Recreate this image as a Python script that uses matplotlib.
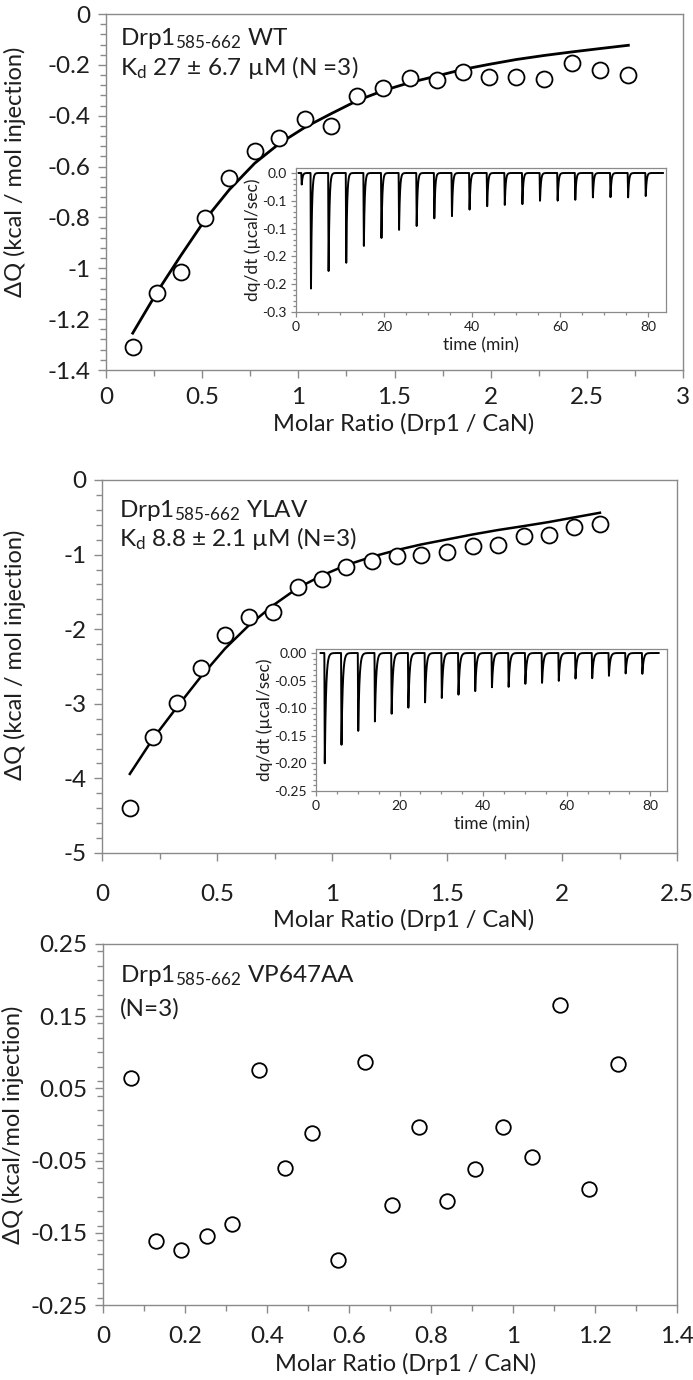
import numpy as np
import matplotlib
matplotlib.use("Agg")
import matplotlib.pyplot as plt
from matplotlib.ticker import MultipleLocator, FixedLocator, FixedFormatter

plt.rcParams['font.family'] = ['Lato', 'DejaVu Sans']
plt.rcParams['mathtext.fontset'] = 'custom'
plt.rcParams['mathtext.rm'] = 'Lato'
plt.rcParams['mathtext.it'] = 'Lato:italic'
plt.rcParams['mathtext.bf'] = 'Lato:bold'

# ---------------- data ----------------
# Panel A: WT
wt_ratio = [0.139, 0.266, 0.389, 0.516, 0.641, 0.773, 0.902, 1.036, 1.168, 1.305,
            1.439, 1.578, 1.719, 1.855, 1.992, 2.133, 2.279, 2.424, 2.568, 2.716]
wt_dq = [-1.311, -1.097, -1.015, -0.804, -0.643, -0.537, -0.487, -0.412, -0.442, -0.323,
         -0.290, -0.250, -0.261, -0.227, -0.246, -0.246, -0.255, -0.191, -0.222, -0.241]
wt_fit = [-1.255, -1.093, -0.950, -0.808, -0.691, -0.587, -0.509, -0.445, -0.393, -0.341,
          -0.302, -0.270, -0.244, -0.218, -0.198, -0.179, -0.163, -0.149, -0.136, -0.123]
# raw ITC trace (WT): injection times (min) and peak heights (ucal/sec)
wt_inj_time = [1.2, 3.3, 7.3, 11.3, 15.3, 19.3, 23.3, 27.3, 31.3, 35.3, 39.3,
               43.3, 47.3, 51.3, 55.3, 59.3, 63.3, 67.3, 71.3, 75.3, 79.3]
wt_inj_peak = [-0.021, -0.211, -0.183, -0.168, -0.135, -0.119, -0.103, -0.096, -0.084, -0.081, -0.068,
               -0.061, -0.058, -0.056, -0.051, -0.052, -0.050, -0.045, -0.044, -0.044, -0.042]
wt_inset_yticks = [0.0, -0.05, -0.10, -0.15, -0.20, -0.25]
wt_inset_ylabels = ['0.0', '-0.1', '-0.1', '-0.2', '-0.2', '-0.3']

# Panel B: YLAV
ylav_ratio = [0.121, 0.221, 0.327, 0.429, 0.535, 0.638, 0.744, 0.850, 0.956, 1.063,
              1.173, 1.281, 1.388, 1.500, 1.612, 1.721, 1.833, 1.942, 2.054, 2.165]
ylav_dq = [-4.40, -3.44, -2.99, -2.52, -2.08, -1.83, -1.77, -1.43, -1.33, -1.17,
           -1.08, -1.02, -1.00, -0.96, -0.886, -0.873, -0.748, -0.739, -0.627, -0.591]
ylav_fit = [-3.94, -3.47, -3.04, -2.64, -2.26, -1.95, -1.68, -1.45, -1.28, -1.14,
            -1.03, -0.94, -0.864, -0.797, -0.730, -0.671, -0.618, -0.564, -0.501, -0.439]
ylav_inj_time = [2.0, 6.0, 10.0, 14.0, 18.0, 22.0, 26.0, 30.0, 34.0, 38.0,
                 42.0, 46.0, 50.0, 54.0, 58.0, 62.0, 66.0, 70.0, 74.0, 78.0]
ylav_inj_peak = [-0.204, -0.168, -0.145, -0.124, -0.112, -0.102, -0.090, -0.0835, -0.076, -0.070,
                 -0.064, -0.0616, -0.057, -0.055, -0.051, -0.0476, -0.0457, -0.042, -0.038, -0.038]
ylav_inset_yticks = [0.0, -0.05, -0.10, -0.15, -0.20, -0.25]
ylav_inset_ylabels = ['0.00', '-0.05', '-0.10', '-0.15', '-0.20', '-0.25']

# Panel C: VP647AA
vp_ratio = [0.069, 0.129, 0.191, 0.253, 0.314, 0.380, 0.444, 0.509, 0.572, 0.639,
            0.705, 0.771, 0.840, 0.907, 0.976, 1.046, 1.115, 1.186, 1.256]
vp_dq = [0.064, -0.161, -0.174, -0.154, -0.138, 0.075, -0.060, -0.012, -0.188, 0.087,
         -0.112, -0.004, -0.106, -0.061, -0.003, -0.045, 0.165, -0.090, 0.084]

top_xticks = [0, 0.5, 1, 1.5, 2, 2.5, 3]
top_xlabels = ['0', '0.5', '1', '1.5', '2', '2.5', '3']
top_yticks = [0, -0.2, -0.4, -0.6, -0.8, -1.0, -1.2, -1.4]
top_ylabels = ['0', '-0.2', '-0.4', '-0.6', '-0.8', '-1', '-1.2', '-1.4']
mid_xticks = [0, 0.5, 1, 1.5, 2, 2.5]
mid_xlabels = ['0', '0.5', '1', '1.5', '2', '2.5']
mid_yticks = [0, -1, -2, -3, -4, -5]
mid_ylabels = ['0', '-1', '-2', '-3', '-4', '-5']
bot_xticks = [0, 0.2, 0.4, 0.6, 0.8, 1.0, 1.2, 1.4]
bot_xlabels = ['0', '0.2', '0.4', '0.6', '0.8', '1', '1.2', '1.4']
bot_yticks = [0.25, 0.15, 0.05, -0.05, -0.15, -0.25]
bot_ylabels = ['0.25', '0.15', '0.05', '-0.05', '-0.15', '-0.25']
inset_xticks = [0, 20, 40, 60, 80]
inset_xlabels = ['0', '20', '40', '60', '80']

# ---------------- style ----------------
W, H = 693, 1380
SPINE = '#8a8a8a'
TXT = '#1e1e1e'
fig = plt.figure(figsize=(W / 100, H / 100), dpi=100)


def px_axes(l, t, r, b):
    return fig.add_axes([l / W, 1 - b / H, (r - l) / W, (b - t) / H])


def style_axes(ax, fs, maj, minr, xpad, ypad, lw=1.0):
    for s in ax.spines.values():
        s.set_color(SPINE)
        s.set_linewidth(lw)
    ax.tick_params(which='both', direction='out', color=SPINE, width=lw,
                   labelcolor=TXT, labelsize=fs, top=False, right=False)
    ax.tick_params(which='major', length=maj)
    ax.tick_params(which='minor', length=minr)
    ax.tick_params(axis='x', which='major', pad=xpad)
    ax.tick_params(axis='y', which='major', pad=ypad)


def set_ticks(ax, xt, xl, yt, yl, xminor, yminor):
    ax.xaxis.set_major_locator(FixedLocator(xt))
    ax.xaxis.set_major_formatter(FixedFormatter(xl))
    ax.yaxis.set_major_locator(FixedLocator(yt))
    ax.yaxis.set_major_formatter(FixedFormatter(yl))
    ax.xaxis.set_minor_locator(MultipleLocator(xminor))
    ax.yaxis.set_minor_locator(MultipleLocator(yminor))


def itc_trace(t, times, peaks, ramp, tau):
    y = np.zeros_like(t)
    for t0, p in zip(times, peaks):
        dt = t - t0
        shape = np.where(dt < 0, 0.0,
                         np.where(dt < ramp, dt / ramp, np.exp(-(dt - ramp) / tau)))
        y += p * shape
    return y


MAIN_FS = 17.5
LAB_FS = 17
ANN_FS = 17.5
IN_FS = 10
IN_LAB = 12.5
MS = 11.5
MEW = 1.3

# ---------------- Panel A ----------------
ax1 = px_axes(106, 14, 683, 370)
ax1.plot(wt_ratio, wt_dq, 'o', ms=MS, mfc='white', mec='black', mew=MEW, zorder=3)
ax1.plot(wt_ratio, wt_fit, '-', color='black', lw=2.0, zorder=2)
ax1.set_xlim(0, 3)
ax1.set_ylim(-1.4, 0)
set_ticks(ax1, top_xticks, top_xlabels, top_yticks, top_ylabels, 0.25, 0.04)
style_axes(ax1, MAIN_FS, 6, 4, 6, 5)
ax1.text(0.024, 0.913, r'Drp1$_{\mathregular{585\text{-}662}}$ WT', transform=ax1.transAxes,
         fontsize=ANN_FS, color=TXT, va='baseline', ha='left')
ax1.text(0.024, 0.828, r'K$_{\mathregular{d}}$ 27 $\pm$ 6.7 µM (N =3)', transform=ax1.transAxes,
         fontsize=ANN_FS, color=TXT, va='baseline', ha='left')

in1 = px_axes(296, 168, 666, 312)
t1 = np.linspace(0.6, 83.3, 6000)
in1.plot(t1, itc_trace(t1, wt_inj_time, wt_inj_peak, 0.1, 0.2), color='black', lw=1.4)
in1.set_xlim(0, 84)
in1.set_ylim(-0.25, 0.009)
set_ticks(in1, inset_xticks, inset_xlabels, wt_inset_yticks, wt_inset_ylabels, 5, 0.01)
style_axes(in1, IN_FS, 3.5, 2.5, 3, 3, lw=0.9)
in1.set_xlabel('time (min)', fontsize=IN_LAB, color=TXT, labelpad=3)
in1.set_ylabel('dq/dt (µcal/sec)', fontsize=IN_LAB, color=TXT, labelpad=1)

fig.text(15 / W, 1 - 172 / H, 'ΔQ (kcal / mol injection)', rotation=90, fontsize=LAB_FS,
         color=TXT, ha='center', va='center')
fig.text(404 / W, 1 - 424 / H, 'Molar Ratio (Drp1 / CaN)', fontsize=LAB_FS, color=TXT,
         ha='center', va='center')

# ---------------- Panel B ----------------
ax2 = px_axes(102, 480, 677, 853)
ax2.plot(ylav_ratio, ylav_dq, 'o', ms=MS, mfc='white', mec='black', mew=MEW, zorder=3)
ax2.plot(ylav_ratio, ylav_fit, '-', color='black', lw=1.8, zorder=2)
ax2.set_xlim(0, 2.5)
ax2.set_ylim(-5, 0)
set_ticks(ax2, mid_xticks, mid_xlabels, mid_yticks, mid_ylabels, 0.25, 0.2)
style_axes(ax2, MAIN_FS, 6, 4, 16, 5)
ax2.text(0.029, 0.900, r'Drp1$_{\mathregular{585\text{-}662}}$ YLAV', transform=ax2.transAxes,
         fontsize=ANN_FS, color=TXT, va='baseline', ha='left')
ax2.text(0.029, 0.822, r'K$_{\mathregular{d}}$ 8.8 $\pm$ 2.1 µM (N=3)', transform=ax2.transAxes,
         fontsize=ANN_FS, color=TXT, va='baseline', ha='left')

in2 = px_axes(316, 649, 667, 791)
t2 = np.linspace(1.1, 82.0, 6000)
in2.plot(t2, itc_trace(t2, ylav_inj_time, ylav_inj_peak, 0.1, 0.3), color='black', lw=1.4)
in2.set_xlim(0, 84)
in2.set_ylim(-0.25, 0.0073)
set_ticks(in2, inset_xticks, inset_xlabels, ylav_inset_yticks, ylav_inset_ylabels, 5, 0.01)
style_axes(in2, IN_FS, 3.5, 2.5, 3, 3, lw=0.9)
in2.set_xlabel('time (min)', fontsize=IN_LAB, color=TXT, labelpad=3)
in2.set_ylabel('dq/dt (µcal/sec)', fontsize=IN_LAB, color=TXT, labelpad=1)

fig.text(15 / W, 1 - 655 / H, 'ΔQ (kcal / mol injection)', rotation=90, fontsize=LAB_FS,
         color=TXT, ha='center', va='center')
fig.text(404 / W, 1 - 920 / H, 'Molar Ratio (Drp1 / CaN)', fontsize=LAB_FS, color=TXT,
         ha='center', va='center')

# ---------------- Panel C ----------------
ax3 = px_axes(103, 944, 677, 1305)
ax3.plot(vp_ratio, vp_dq, 'o', ms=10.5, mfc='white', mec='black', mew=MEW, zorder=3)
ax3.set_xlim(0, 1.4)
ax3.set_ylim(-0.25, 0.25)
set_ticks(ax3, bot_xticks, bot_xlabels, bot_yticks, bot_ylabels, 0.1, 0.02)
style_axes(ax3, MAIN_FS, 6, 4, 9, 5)
ax3.text(0.029, 0.895, r'Drp1$_{\mathregular{585\text{-}662}}$ VP647AA', transform=ax3.transAxes,
         fontsize=ANN_FS, color=TXT, va='baseline', ha='left')
ax3.text(0.029, 0.803, '(N=3)', transform=ax3.transAxes,
         fontsize=ANN_FS, color=TXT, va='baseline', ha='left')

fig.text(13 / W, 1 - 1125 / H, 'ΔQ (kcal/mol injection)', rotation=90, fontsize=LAB_FS,
         color=TXT, ha='center', va='center')
fig.text(406 / W, 1 - 1364 / H, 'Molar Ratio (Drp1 / CaN)', fontsize=LAB_FS, color=TXT,
         ha='center', va='center')

fig.savefig('out.png', dpi=100, facecolor='white')
